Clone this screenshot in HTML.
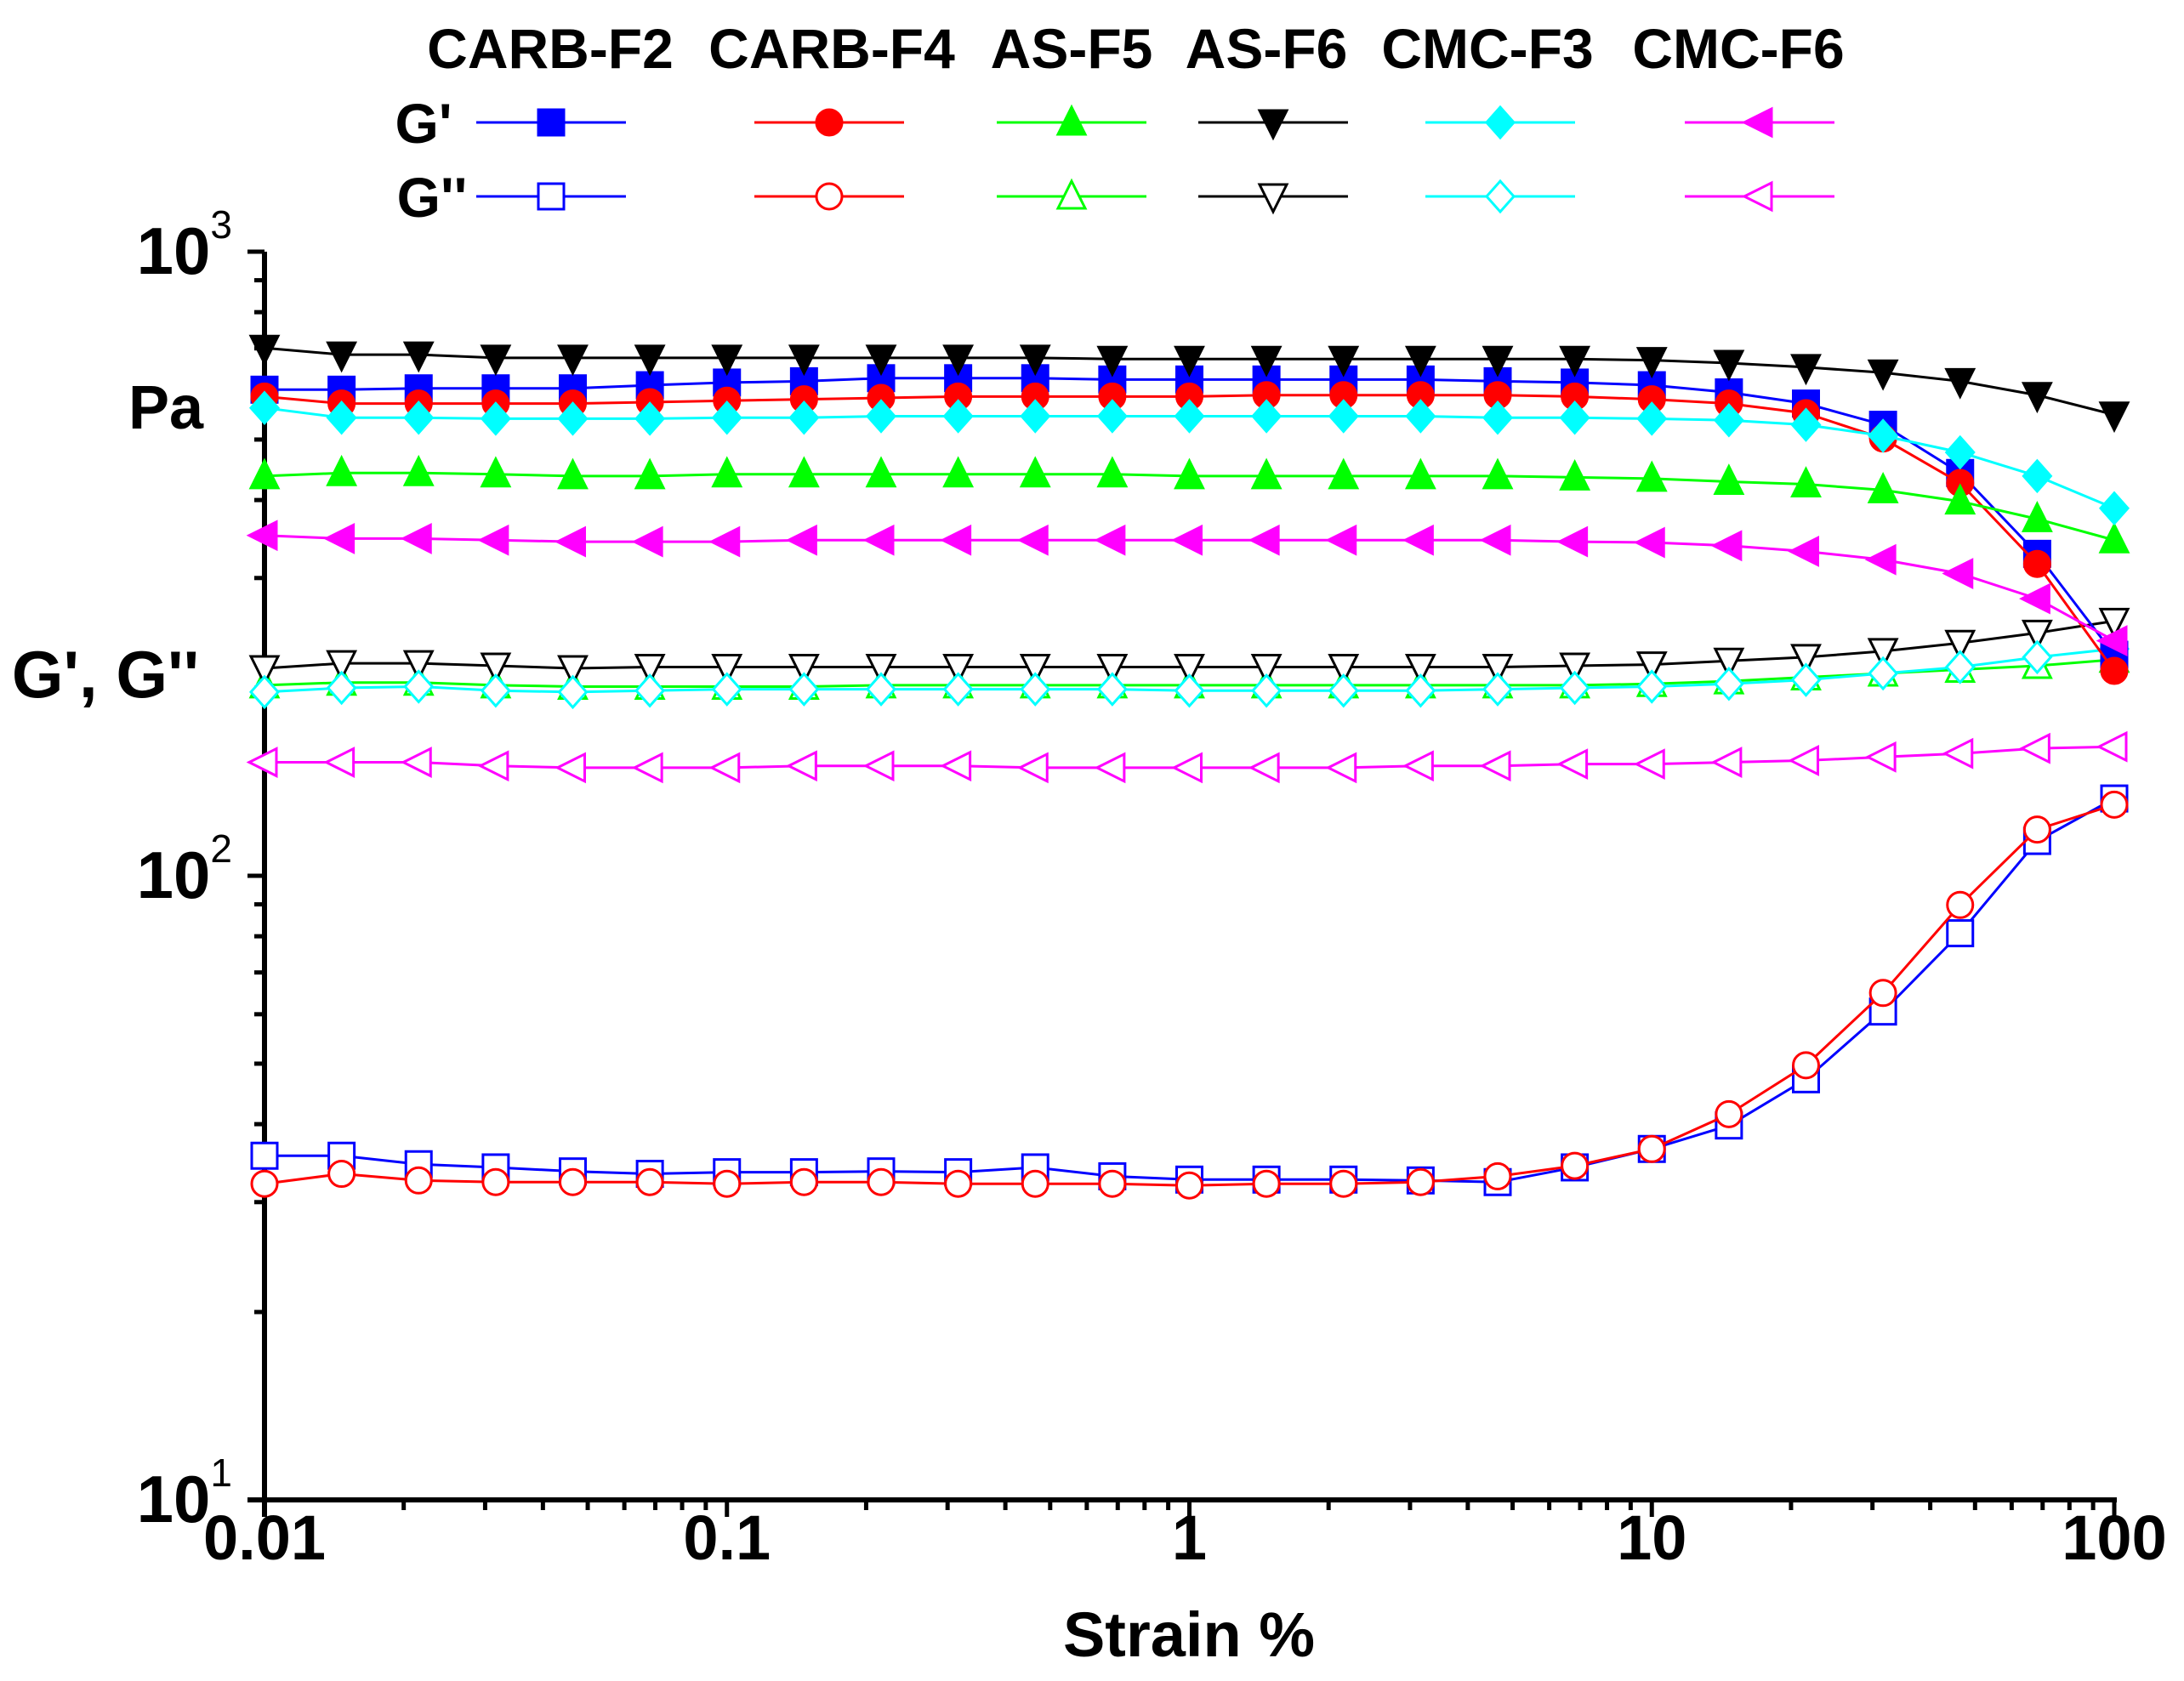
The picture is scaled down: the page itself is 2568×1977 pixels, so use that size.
<!DOCTYPE html>
<html><head><meta charset="utf-8"><style>
html,body{margin:0;padding:0;background:#fff;}
svg{display:block;font-family:"Liberation Sans",Arial,sans-serif;font-weight:bold;}
</style></head><body>
<svg id="chart" width="2568" height="1977" viewBox="0 0 2568 1977" xmlns="http://www.w3.org/2000/svg">
<g id="axes"></g>
<g id="series"></g>
<g id="legend"></g>
<text x="1398" y="1948" font-size="74" text-anchor="middle">Strain %</text>
<text x="124" y="820" font-size="78" text-anchor="middle">G', G''</text>
<text x="195" y="504" font-size="72" text-anchor="middle">Pa</text>
</svg>
<script>
const strain = Array.from({length:25},(_,i)=>Math.pow(10,-2+i/6));
const seriesNames = ["CARB-F2","CARB-F4","AS-F5","AS-F6","CMC-F3","CMC-F6"];
const colors = ["#0000ff","#ff0000","#00ff00","#000000","#00ffff","#ff00ff"];
const shapes = ["square","circle","up","down","diamond","left"];
const gp_CARB_F2 = [601,601,604,604,604,611,617,620,627,627,627,624,624,624,624,624,620,617,611,595,571,528,442,328,226];
const gp_CARB_F4 = [586,571,571,571,571,574,577,580,583,586,586,586,586,589,589,589,589,586,580,571,551,502,426,316,213];
const gp_AS_F5 = [437,442,442,440,437,437,440,440,440,440,440,440,437,437,437,437,437,435,433,428,424,415,398,373,345];
const gp_AS_F6 = [701,684,684,676,676,676,676,676,676,676,676,673,673,673,673,673,673,673,670,663,653,640,620,589,548];
const gp_CMC_F3 = [562,542,542,540,540,540,542,542,545,545,545,545,545,545,545,545,542,542,540,537,528,507,477,437,388];
const gp_CMC_F6 = [351,347,347,345,343,343,343,345,345,345,345,345,345,345,345,345,345,343,342,338,331,321,305,278,238];
const gpp_CARB_F2 = [35.6,35.6,34.5,34.1,33.6,33.3,33.5,33.5,33.6,33.5,34.1,33.0,32.6,32.6,32.6,32.5,32.3,34.1,36.5,39.8,47.2,60.6,80.9,113.7,133];
const gpp_CARB_F4 = [32.1,33.3,32.5,32.3,32.3,32.3,32.1,32.3,32.3,32.1,32.1,32.1,31.9,32.1,32.1,32.3,33.0,34.3,36.5,41.5,49.7,64.9,89.8,118.6,130];
const gpp_AS_F5 = [202,204,204,202,201,201,201,201,202,202,202,202,202,202,202,202,202,202,203,205,208,211,214,217,222];
const gpp_AS_F6 = [215,219,219,217,215,216,216,216,216,216,216,216,216,216,216,216,216,217,218,221,224,229,236,245,256];
const gpp_CMC_F3 = [197,200,201,198,197,198,199,199,199,199,199,199,198,198,198,198,199,200,201,203,206,211,216,224,231];
const gpp_CMC_F6 = [152,152,152,150,149,149,149,150,150,150,149,149,149,149,149,150,150,151,151,152,153,155,157,160,161];
const gPrime = [gp_CARB_F2,gp_CARB_F4,gp_AS_F5,gp_AS_F6,gp_CMC_F3,gp_CMC_F6];
const gDouble = [gpp_CARB_F2,gpp_CARB_F4,gpp_AS_F5,gpp_AS_F6,gpp_CMC_F3,gpp_CMC_F6];
const xTickLabels = ["0.01","0.1","1","10","100"];
const yTickExps = ["3","2","1"];

const X0=311,X1=2486,YT=296,YB=1764;
const xs=v=>X0+(Math.log10(v)+2)/4*(X1-X0);
const ys=v=>YT+(3-Math.log10(v))/2*(YB-YT);
const NS="http://www.w3.org/2000/svg";
function mk(tag,attrs,parent){const e=document.createElementNS(NS,tag);for(const k in attrs)e.setAttribute(k,attrs[k]);parent.appendChild(e);return e;}
const axes=document.getElementById('axes');
let el;
el=mk('line',{x1:X0,y1:YT,x2:X0,y2:YB+20,stroke:'#000','stroke-width':6},axes);


el=mk('line',{x1:X0-20,y1:YB,x2:X1+3,y2:YB,stroke:'#000','stroke-width':6},axes);


for(let d=-2;d<=2;d++){
  const x=xs(Math.pow(10,d));
  el=mk('line',{x1:x,y1:YB,x2:x,y2:YB+20,stroke:'#000','stroke-width':5},axes);
  
  
  el=mk('text',{x:x,y:1834,'font-size':74,'text-anchor':'middle'},axes);
  el.textContent=xTickLabels[d+2];
  
  
  if(d<2)for(let m=2;m<=9;m++){const xm=xs(m*Math.pow(10,d));
    el=mk('line',{x1:xm,y1:YB,x2:xm,y2:YB+12,stroke:'#000','stroke-width':5},axes);
    
    }
}
for(let i=0;i<3;i++){
  const e=3-i,y=ys(Math.pow(10,e));
  el=mk('line',{x1:X0-20,y1:y,x2:X0,y2:y,stroke:'#000','stroke-width':5},axes);
  
  
  el=mk('text',{x:X0-38,y:y+26,'font-size':78,'text-anchor':'end'},axes);
  
  
  const t1=mk('tspan',{},el);t1.textContent='10';
  const t2=mk('tspan',{'font-size':46,'font-weight':'normal',dy:-42},el);t2.textContent=yTickExps[i];
  if(e>1)for(let m=2;m<=9;m++){const ym=ys(m*Math.pow(10,e-1));
    el=mk('line',{x1:X0-12,y1:ym,x2:X0,y2:ym,stroke:'#000','stroke-width':5},axes);
    
    }
}
function marker(shape,x,y,color,filled,parent){
  const r=16,fill=filled?color:'#fff',sw=3;let e;
  if(shape==='square')e=mk('rect',{x:x-r+1,y:y-r+1,width:2*r-2,height:2*r-2,fill,stroke:color,'stroke-width':sw},parent);
  else if(shape==='circle')e=mk('circle',{cx:x,cy:y,r:r-1,fill,stroke:color,'stroke-width':sw},parent);
  else{let p;
    if(shape==='up')p=[[x,y-r-2],[x+r,y+r-2],[x-r,y+r-2]];
    else if(shape==='down')p=[[x,y+r+2],[x+r,y-r+2],[x-r,y-r+2]];
    else if(shape==='diamond')p=[[x,y-r-2],[x+r,y],[x,y+r+2],[x-r,y]];
    else p=[[x-r-2,y],[x+r-2,y-r],[x+r-2,y+r]];
    e=mk('polygon',{points:p.map(q=>q.join(',')).join(' '),fill,stroke:color,'stroke-width':sw,'stroke-linejoin':'miter'},parent);}
  return e;
}
const sg=document.getElementById('series');
function drawSeries(vals,i,filled,kind){
  const g=mk('g',{},sg);
  
  
  const pts=vals.map((v,j)=>[xs(strain[j]),ys(v)]);
  el=mk('polyline',{points:pts.map(p=>p.join(',')).join(' '),fill:'none',stroke:colors[i],'stroke-width':3},g);
  
  
  pts.forEach(p=>{el=marker(shapes[i],p[0],p[1],colors[i],filled,g);
    
    });
}
gDouble.forEach((v,i)=>drawSeries(v,i,false,'g-double-prime'));
gPrime.forEach((v,i)=>drawSeries(v,i,true,'g-prime'));
const lg=document.getElementById('legend');
const hdrX=[647,978,1260,1489,1749,2044];
const mkX=[648,975,1260,1497,1764,2069];
seriesNames.forEach((n,i)=>{
  el=mk('text',{x:hdrX[i],y:80,'font-size':66,'text-anchor':'middle'},lg);
  el.textContent=n;
  
  
  [[144,true],[231,false]].forEach(([y,f])=>{
    const g=mk('g',{},lg);
    
    
    mk('line',{x1:mkX[i]-88,y1:y,x2:mkX[i]+88,y2:y,stroke:colors[i],'stroke-width':3},g);
    marker(shapes[i],mkX[i],y,colors[i],f,g);
  });
});
el=mk('text',{x:498,y:168,'font-size':66,'text-anchor':'middle'},lg);
el.textContent="G'";


el=mk('text',{x:508,y:255,'font-size':66,'text-anchor':'middle'},lg);
el.textContent="G''";


</script>
</body></html>
